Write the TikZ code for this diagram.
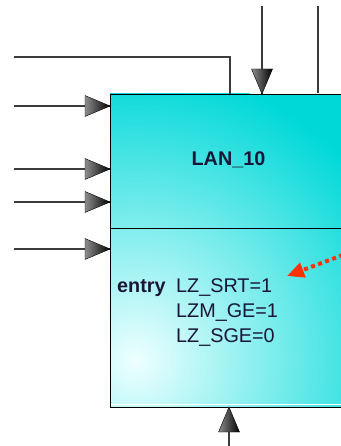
\documentclass[tikz,border=0pt]{standalone}
\usepackage{fontspec}
\setmainfont{Liberation Sans}
\usetikzlibrary{arrows.meta}
\definecolor{boxcyan}{RGB}{0,216,216}
\definecolor{glowc}{RGB}{238,255,255}
\definecolor{wirec}{RGB}{60,60,60}
\definecolor{redarr}{RGB}{255,51,0}
\definecolor{txtc}{RGB}{25,22,55}
\tikzset{
  wire/.style={draw=wirec, line width=1.4pt},
  compart/.style={rectangle, draw=black, line width=1pt, minimum width=250pt, anchor=north west, inner sep=0pt},
  headshade/.style={left color=black!45, middle color=black!85, right color=black, draw=black, line width=0.4pt},
  ahead/.pic={\shade[headshade] (0,0) -- (-25,-10.5) -- (-25,10.5) -- cycle;},
  lbl/.style={font=\fontsize{19.8}{24}\selectfont, inner sep=0pt, text=txtc, anchor=base west},
}
\begin{document}
\begin{tikzpicture}[x=1pt,y=-1pt]
\useasboundingbox (0,0) rectangle (340,446);
% box fill
\fill[boxcyan] (110,94) rectangle (360,407);
\begin{scope}
  \clip (110,94) rectangle (360,407);
  \shade[inner color=glowc, outer color=boxcyan] (135,360) circle (290);
\end{scope}
\node[compart, minimum height=134pt] (upper) at (110,94) {};
\node[compart, minimum height=179pt] (lower) at (110,228) {};
\draw[white, line width=1pt] (111,404.3) -- (360,404.3);
% texts
\node[lbl, font=\bfseries\fontsize{19.8}{24}\selectfont, anchor=base] (title) at (228.5,166) {LAN\_10};
\node[lbl, font=\bfseries\fontsize{19.8}{24}\selectfont] (entry) at (117,292.5) {entry};
\node[lbl] (l1) at (176,292.5) {LZ\_SRT=1};
\node[lbl] (l2) at (176,317.3) {LZM\_GE=1};
\node[lbl] (l3) at (176,342) {LZ\_SGE=0};
% wires
\coordinate (s0) at (14,57);
\coordinate (e0) at (230,94);
\draw[wire] (s0) -| (e0);
\foreach \i/\y in {1/106,2/169,3/202,4/249}{
  \coordinate (s\i) at (14,\y);
  \coordinate (e\i) at (110,\y);
  \draw[wire] (s\i) -- (e\i);
  \pic at (e\i) {ahead};
}
\coordinate (st) at (262,6);
\coordinate (et) at (262,94);
\draw[wire] (st) -- (et);
\pic[rotate=-90] at (et) {ahead};
\coordinate (sr) at (318,6);
\coordinate (er) at (318,93);
\draw[wire] (sr) -- (er);
\coordinate (sb) at (229,446);
\coordinate (eb) at (229,407);
\draw[wire] (sb) -- (eb);
\pic[rotate=90] at (eb) {ahead};
% red dotted arrow
\coordinate (rs) at (350,252.3);
\coordinate (re) at (287,276);
\draw[redarr, line width=4pt, dash pattern=on 4pt off 3.5pt, -{Triangle[length=17pt,width=15pt]}] (rs) -- (re);
\end{tikzpicture}
\end{document}
